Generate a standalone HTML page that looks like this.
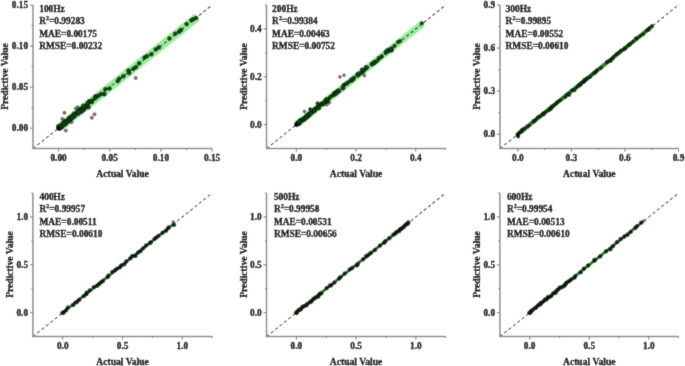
<!DOCTYPE html><html><head><meta charset="utf-8"><style>html,body{margin:0;padding:0;background:#fff;width:685px;height:366px;overflow:hidden}svg{display:block}circle{fill:#104c10;stroke:#031503;stroke-width:0.5}text{font-family:"Liberation Serif", serif;font-weight:bold;font-size:9.4px;fill:#000;stroke:#000;stroke-width:0.32px}.t{font-size:9.6px}</style></head><body>
<svg width="685" height="366" viewBox="0 0 685 366"><defs><filter id="bl" x="0" y="0" width="685" height="366" filterUnits="userSpaceOnUse"><feConvolveMatrix order="3" kernelMatrix="0.01134 0.08382 0.01134 0.08382 0.61935 0.08382 0.01134 0.08382 0.01134" edgeMode="duplicate"/></filter></defs><g filter="url(#bl)"><rect width="685" height="366" fill="#fff"/>
<g><line x1="58.59" y1="128.09" x2="197.06" y2="17.06" stroke="#9aee9a" stroke-width="8.50"/><line x1="33.00" y1="148.60" x2="212.10" y2="5.00" stroke="#383838" stroke-width="1.05" stroke-dasharray="3.2,2.4"/><circle cx="64.50" cy="112.80" r="1.70" style="fill:#767676;stroke:#5a5a5a"/><circle cx="62.30" cy="118.90" r="1.70" style="fill:#767676;stroke:#5a5a5a"/><circle cx="65.80" cy="130.60" r="1.70" style="fill:#767676;stroke:#5a5a5a"/><circle cx="77.70" cy="107.20" r="1.70" style="fill:#767676;stroke:#5a5a5a"/><circle cx="75.80" cy="108.50" r="1.70" style="fill:#767676;stroke:#5a5a5a"/><circle cx="71.50" cy="122.20" r="1.70" style="fill:#767676;stroke:#5a5a5a"/><circle cx="91.80" cy="117.80" r="1.70" style="fill:#767676;stroke:#5a5a5a"/><circle cx="94.50" cy="114.30" r="1.70" style="fill:#767676;stroke:#5a5a5a"/><circle cx="135.70" cy="77.90" r="1.70" style="fill:#767676;stroke:#5a5a5a"/><circle cx="62.66" cy="125.57" r="2.00"/><circle cx="65.11" cy="121.78" r="2.00"/><circle cx="71.76" cy="116.46" r="2.00"/><circle cx="80.55" cy="110.82" r="2.00"/><circle cx="61.88" cy="126.88" r="2.00"/><circle cx="70.67" cy="118.66" r="2.00"/><circle cx="80.06" cy="111.71" r="2.00"/><circle cx="78.53" cy="112.11" r="2.00"/><circle cx="65.67" cy="123.97" r="2.00"/><circle cx="59.16" cy="127.07" r="2.00"/><circle cx="58.43" cy="126.45" r="2.00"/><circle cx="68.89" cy="119.36" r="2.00"/><circle cx="64.49" cy="123.19" r="2.00"/><circle cx="64.75" cy="123.23" r="2.00"/><circle cx="70.41" cy="118.04" r="2.00"/><circle cx="64.97" cy="122.98" r="2.00"/><circle cx="64.33" cy="122.86" r="2.00"/><circle cx="59.26" cy="127.71" r="2.00"/><circle cx="81.23" cy="108.90" r="2.00"/><circle cx="63.54" cy="123.73" r="2.00"/><circle cx="86.13" cy="106.25" r="2.00"/><circle cx="67.63" cy="120.53" r="2.00"/><circle cx="78.31" cy="111.84" r="2.00"/><circle cx="69.39" cy="117.67" r="2.00"/><circle cx="81.37" cy="109.50" r="2.00"/><circle cx="74.54" cy="114.72" r="2.00"/><circle cx="83.22" cy="108.85" r="2.00"/><circle cx="74.49" cy="114.58" r="2.00"/><circle cx="59.57" cy="127.36" r="2.00"/><circle cx="70.70" cy="119.74" r="2.00"/><circle cx="62.81" cy="123.56" r="2.00"/><circle cx="77.05" cy="112.92" r="2.00"/><circle cx="68.52" cy="119.27" r="2.00"/><circle cx="80.26" cy="111.05" r="2.00"/><circle cx="72.64" cy="116.12" r="2.00"/><circle cx="59.67" cy="127.77" r="2.00"/><circle cx="59.48" cy="126.74" r="2.00"/><circle cx="73.95" cy="113.66" r="2.00"/><circle cx="69.67" cy="119.63" r="2.00"/><circle cx="86.11" cy="106.81" r="2.00"/><circle cx="79.16" cy="110.11" r="2.00"/><circle cx="64.82" cy="122.71" r="2.00"/><circle cx="73.25" cy="117.29" r="2.00"/><circle cx="71.13" cy="117.73" r="2.00"/><circle cx="65.13" cy="121.00" r="2.00"/><circle cx="58.46" cy="127.61" r="2.00"/><circle cx="80.58" cy="111.14" r="2.00"/><circle cx="78.34" cy="110.80" r="2.00"/><circle cx="80.47" cy="109.56" r="2.00"/><circle cx="70.30" cy="118.58" r="2.00"/><circle cx="60.47" cy="127.26" r="2.00"/><circle cx="63.75" cy="123.21" r="2.00"/><circle cx="72.18" cy="116.47" r="2.00"/><circle cx="68.18" cy="120.46" r="2.00"/><circle cx="73.10" cy="115.70" r="2.00"/><circle cx="70.88" cy="117.48" r="2.00"/><circle cx="59.39" cy="127.50" r="2.00"/><circle cx="74.97" cy="115.43" r="2.00"/><circle cx="82.58" cy="109.26" r="2.00"/><circle cx="80.51" cy="109.20" r="2.00"/><circle cx="65.95" cy="122.81" r="2.00"/><circle cx="60.42" cy="125.65" r="2.00"/><circle cx="59.67" cy="128.50" r="2.00"/><circle cx="65.54" cy="122.63" r="2.00"/><circle cx="61.37" cy="125.36" r="2.00"/><circle cx="60.26" cy="126.24" r="2.00"/><circle cx="62.77" cy="124.27" r="2.00"/><circle cx="66.09" cy="121.99" r="2.00"/><circle cx="77.93" cy="111.92" r="2.00"/><circle cx="71.77" cy="117.70" r="2.00"/><circle cx="58.94" cy="127.19" r="2.00"/><circle cx="64.04" cy="124.24" r="2.00"/><circle cx="61.95" cy="126.13" r="2.00"/><circle cx="64.10" cy="123.12" r="2.00"/><circle cx="75.35" cy="114.71" r="2.00"/><circle cx="59.01" cy="127.60" r="2.00"/><circle cx="62.59" cy="124.79" r="2.00"/><circle cx="77.84" cy="112.20" r="2.00"/><circle cx="77.07" cy="112.74" r="2.00"/><circle cx="85.47" cy="106.38" r="2.00"/><circle cx="80.37" cy="110.08" r="2.00"/><circle cx="76.48" cy="113.68" r="2.00"/><circle cx="69.20" cy="118.97" r="2.00"/><circle cx="75.87" cy="113.92" r="2.00"/><circle cx="59.91" cy="126.41" r="2.00"/><circle cx="83.72" cy="109.86" r="2.00"/><circle cx="67.26" cy="121.55" r="2.00"/><circle cx="84.29" cy="106.96" r="2.00"/><circle cx="78.89" cy="111.30" r="2.00"/><circle cx="58.96" cy="128.08" r="2.00"/><circle cx="83.54" cy="109.46" r="2.00"/><circle cx="85.34" cy="106.97" r="2.00"/><circle cx="74.70" cy="115.90" r="2.00"/><circle cx="86.16" cy="107.34" r="2.00"/><circle cx="77.67" cy="112.03" r="2.00"/><circle cx="68.15" cy="120.37" r="2.00"/><circle cx="64.09" cy="123.30" r="2.00"/><circle cx="63.59" cy="123.34" r="2.00"/><circle cx="61.31" cy="125.57" r="2.00"/><circle cx="72.12" cy="116.67" r="2.00"/><circle cx="68.13" cy="121.57" r="2.00"/><circle cx="58.50" cy="126.96" r="2.00"/><circle cx="63.62" cy="122.99" r="2.00"/><circle cx="81.19" cy="111.96" r="2.00"/><circle cx="68.09" cy="120.73" r="2.00"/><circle cx="82.28" cy="110.21" r="2.00"/><circle cx="83.91" cy="106.89" r="2.00"/><circle cx="78.22" cy="113.67" r="2.00"/><circle cx="72.25" cy="117.69" r="2.00"/><circle cx="78.61" cy="111.98" r="2.00"/><circle cx="59.55" cy="127.86" r="2.00"/><circle cx="60.81" cy="127.29" r="2.00"/><circle cx="64.41" cy="122.62" r="2.00"/><circle cx="61.32" cy="125.32" r="2.00"/><circle cx="61.24" cy="125.69" r="2.00"/><circle cx="64.02" cy="124.73" r="2.00"/><circle cx="66.50" cy="121.95" r="2.00"/><circle cx="63.01" cy="124.36" r="2.00"/><circle cx="59.53" cy="127.52" r="2.00"/><circle cx="65.70" cy="122.43" r="2.00"/><circle cx="65.15" cy="123.05" r="2.00"/><circle cx="63.42" cy="123.80" r="2.00"/><circle cx="64.75" cy="122.66" r="2.00"/><circle cx="60.64" cy="126.90" r="2.00"/><circle cx="59.20" cy="127.48" r="2.00"/><circle cx="63.73" cy="125.03" r="2.00"/><circle cx="65.97" cy="121.77" r="2.00"/><circle cx="65.08" cy="122.99" r="2.00"/><circle cx="65.73" cy="123.12" r="2.00"/><circle cx="59.37" cy="127.52" r="2.00"/><circle cx="59.58" cy="127.40" r="2.00"/><circle cx="60.50" cy="126.45" r="2.00"/><circle cx="66.57" cy="121.46" r="2.00"/><circle cx="60.02" cy="127.06" r="2.00"/><circle cx="60.56" cy="126.50" r="2.00"/><circle cx="65.93" cy="121.96" r="2.00"/><circle cx="62.22" cy="126.27" r="2.00"/><circle cx="60.89" cy="126.03" r="2.00"/><circle cx="60.55" cy="126.28" r="2.00"/><circle cx="63.94" cy="123.83" r="2.00"/><circle cx="88.55" cy="107.34" r="2.00"/><circle cx="91.77" cy="101.70" r="2.00"/><circle cx="96.74" cy="96.54" r="2.00"/><circle cx="87.53" cy="105.19" r="2.00"/><circle cx="104.51" cy="94.26" r="2.00"/><circle cx="87.99" cy="103.94" r="2.00"/><circle cx="89.02" cy="101.30" r="2.00"/><circle cx="95.16" cy="96.59" r="2.00"/><circle cx="98.67" cy="95.48" r="2.00"/><circle cx="95.82" cy="97.47" r="2.00"/><circle cx="91.88" cy="101.40" r="2.00"/><circle cx="91.62" cy="102.07" r="2.00"/><circle cx="83.30" cy="105.70" r="2.00"/><circle cx="87.40" cy="103.30" r="2.00"/><circle cx="91.50" cy="100.80" r="2.00"/><circle cx="94.80" cy="98.40" r="2.00"/><circle cx="101.30" cy="93.90" r="2.00"/><circle cx="105.40" cy="89.30" r="2.00"/><circle cx="109.50" cy="88.50" r="2.00"/><circle cx="117.70" cy="81.10" r="2.00"/><circle cx="119.30" cy="78.70" r="2.00"/><circle cx="123.40" cy="76.20" r="2.00"/><circle cx="128.40" cy="70.50" r="2.00"/><circle cx="129.20" cy="73.00" r="2.00"/><circle cx="133.30" cy="68.90" r="2.00"/><circle cx="136.00" cy="67.10" r="2.00"/><circle cx="139.20" cy="63.30" r="2.00"/><circle cx="144.60" cy="57.60" r="2.00"/><circle cx="146.90" cy="56.20" r="2.00"/><circle cx="151.30" cy="54.30" r="2.00"/><circle cx="155.70" cy="49.40" r="2.00"/><circle cx="158.90" cy="47.40" r="2.00"/><circle cx="169.40" cy="38.50" r="2.00"/><circle cx="175.20" cy="33.70" r="2.00"/><circle cx="179.00" cy="31.80" r="2.00"/><circle cx="180.90" cy="29.90" r="2.00"/><circle cx="186.60" cy="24.10" r="2.00"/><circle cx="191.40" cy="20.30" r="2.00"/><circle cx="193.30" cy="19.30" r="2.00"/><circle cx="196.20" cy="18.00" r="2.00"/><circle cx="58.79" cy="128.39" r="2.00"/><circle cx="58.29" cy="128.19" r="2.00"/><circle cx="58.69" cy="128.39" r="1.80" style="fill:#050805;stroke:none"/><path d="M33.00 5.00 V148.60 H212.10" fill="none" stroke="#8a8a8a" stroke-width="1.5"/><line x1="30.00" y1="128.09" x2="33.00" y2="128.09" stroke="#777" stroke-width="1"/><line x1="58.59" y1="148.60" x2="58.59" y2="151.60" stroke="#777" stroke-width="1"/><text x="28.20" y="131.19" text-anchor="end">0.00</text><text x="58.59" y="161.30" text-anchor="middle">0.00</text><line x1="30.00" y1="87.06" x2="33.00" y2="87.06" stroke="#777" stroke-width="1"/><line x1="109.76" y1="148.60" x2="109.76" y2="151.60" stroke="#777" stroke-width="1"/><text x="28.20" y="90.16" text-anchor="end">0.05</text><text x="109.76" y="161.30" text-anchor="middle">0.05</text><line x1="30.00" y1="46.03" x2="33.00" y2="46.03" stroke="#777" stroke-width="1"/><line x1="160.93" y1="148.60" x2="160.93" y2="151.60" stroke="#777" stroke-width="1"/><text x="28.20" y="49.13" text-anchor="end">0.10</text><text x="160.93" y="161.30" text-anchor="middle">0.10</text><line x1="30.00" y1="5.00" x2="33.00" y2="5.00" stroke="#777" stroke-width="1"/><line x1="212.10" y1="148.60" x2="212.10" y2="151.60" stroke="#777" stroke-width="1"/><text x="28.20" y="8.10" text-anchor="end">0.15</text><text x="212.10" y="161.30" text-anchor="middle">0.15</text><line x1="31.50" y1="107.57" x2="33.00" y2="107.57" stroke="#777" stroke-width="1"/><line x1="84.17" y1="148.60" x2="84.17" y2="150.10" stroke="#777" stroke-width="1"/><line x1="31.50" y1="66.54" x2="33.00" y2="66.54" stroke="#777" stroke-width="1"/><line x1="135.34" y1="148.60" x2="135.34" y2="150.10" stroke="#777" stroke-width="1"/><line x1="31.50" y1="25.51" x2="33.00" y2="25.51" stroke="#777" stroke-width="1"/><line x1="186.51" y1="148.60" x2="186.51" y2="150.10" stroke="#777" stroke-width="1"/><text class="t" x="122.55" y="176.80" text-anchor="middle">Actual Value</text><text class="t" transform="translate(7.90 76.50) rotate(-90)" text-anchor="middle">Predictive Value</text><text x="39.20" y="12.00">100Hz</text><text x="39.20" y="24.25">R<tspan dy="-3.9" style="font-size:6px">2</tspan><tspan dy="3.9">=0.99283</tspan></text><text x="39.20" y="36.50">MAE=0.00175</text><text x="39.20" y="48.75">RMSE=0.00232</text></g>
<g><line x1="296.35" y1="124.67" x2="422.91" y2="23.19" stroke="#9aee9a" stroke-width="7.00"/><line x1="266.50" y1="148.60" x2="445.60" y2="5.00" stroke="#383838" stroke-width="1.05" stroke-dasharray="3.2,2.4"/><circle cx="304.50" cy="111.40" r="1.53" style="fill:#767676;stroke:#5a5a5a"/><circle cx="326.90" cy="104.70" r="1.53" style="fill:#767676;stroke:#5a5a5a"/><circle cx="329.30" cy="102.80" r="1.53" style="fill:#767676;stroke:#5a5a5a"/><circle cx="339.90" cy="76.90" r="1.53" style="fill:#767676;stroke:#5a5a5a"/><circle cx="344.00" cy="75.20" r="1.53" style="fill:#767676;stroke:#5a5a5a"/><circle cx="364.50" cy="75.70" r="1.53" style="fill:#767676;stroke:#5a5a5a"/><circle cx="337.28" cy="92.10" r="1.80"/><circle cx="299.93" cy="121.71" r="1.80"/><circle cx="331.96" cy="96.01" r="1.80"/><circle cx="308.95" cy="113.43" r="1.80"/><circle cx="321.83" cy="103.44" r="1.80"/><circle cx="302.80" cy="118.86" r="1.80"/><circle cx="314.26" cy="109.34" r="1.80"/><circle cx="339.19" cy="91.08" r="1.80"/><circle cx="336.48" cy="91.69" r="1.80"/><circle cx="307.69" cy="115.35" r="1.80"/><circle cx="298.30" cy="123.95" r="1.80"/><circle cx="310.02" cy="113.86" r="1.80"/><circle cx="312.93" cy="112.11" r="1.80"/><circle cx="319.99" cy="105.12" r="1.80"/><circle cx="306.76" cy="117.00" r="1.80"/><circle cx="302.23" cy="120.05" r="1.80"/><circle cx="318.69" cy="107.91" r="1.80"/><circle cx="304.11" cy="118.44" r="1.80"/><circle cx="334.67" cy="94.31" r="1.80"/><circle cx="334.46" cy="92.91" r="1.80"/><circle cx="329.00" cy="98.67" r="1.80"/><circle cx="337.88" cy="90.67" r="1.80"/><circle cx="337.74" cy="92.16" r="1.80"/><circle cx="327.41" cy="100.86" r="1.80"/><circle cx="315.62" cy="108.34" r="1.80"/><circle cx="335.74" cy="92.91" r="1.80"/><circle cx="317.90" cy="107.74" r="1.80"/><circle cx="333.73" cy="94.07" r="1.80"/><circle cx="334.28" cy="93.29" r="1.80"/><circle cx="335.75" cy="93.32" r="1.80"/><circle cx="326.98" cy="99.57" r="1.80"/><circle cx="310.23" cy="113.58" r="1.80"/><circle cx="326.62" cy="101.24" r="1.80"/><circle cx="308.50" cy="116.37" r="1.80"/><circle cx="334.91" cy="93.05" r="1.80"/><circle cx="327.37" cy="101.59" r="1.80"/><circle cx="317.33" cy="106.73" r="1.80"/><circle cx="321.39" cy="104.47" r="1.80"/><circle cx="309.78" cy="114.14" r="1.80"/><circle cx="336.66" cy="93.24" r="1.80"/><circle cx="323.57" cy="104.11" r="1.80"/><circle cx="327.65" cy="100.22" r="1.80"/><circle cx="335.32" cy="93.88" r="1.80"/><circle cx="299.44" cy="123.38" r="1.80"/><circle cx="324.18" cy="102.27" r="1.80"/><circle cx="333.99" cy="95.04" r="1.80"/><circle cx="300.16" cy="120.12" r="1.80"/><circle cx="306.70" cy="116.16" r="1.80"/><circle cx="305.62" cy="117.82" r="1.80"/><circle cx="326.69" cy="99.79" r="1.80"/><circle cx="297.56" cy="123.39" r="1.80"/><circle cx="325.24" cy="101.86" r="1.80"/><circle cx="299.97" cy="121.93" r="1.80"/><circle cx="327.46" cy="99.67" r="1.80"/><circle cx="297.23" cy="123.91" r="1.80"/><circle cx="303.74" cy="120.15" r="1.80"/><circle cx="304.06" cy="118.21" r="1.80"/><circle cx="297.85" cy="122.76" r="1.80"/><circle cx="338.67" cy="90.86" r="1.80"/><circle cx="311.13" cy="112.99" r="1.80"/><circle cx="322.60" cy="103.60" r="1.80"/><circle cx="310.56" cy="112.90" r="1.80"/><circle cx="297.06" cy="122.86" r="1.80"/><circle cx="328.14" cy="99.60" r="1.80"/><circle cx="334.88" cy="93.83" r="1.80"/><circle cx="325.71" cy="99.59" r="1.80"/><circle cx="316.62" cy="108.59" r="1.80"/><circle cx="310.40" cy="114.52" r="1.80"/><circle cx="299.98" cy="120.27" r="1.80"/><circle cx="302.04" cy="120.61" r="1.80"/><circle cx="320.97" cy="104.21" r="1.80"/><circle cx="302.77" cy="120.09" r="1.80"/><circle cx="337.29" cy="91.78" r="1.80"/><circle cx="314.78" cy="110.94" r="1.80"/><circle cx="296.93" cy="123.81" r="1.80"/><circle cx="298.70" cy="122.63" r="1.80"/><circle cx="297.87" cy="123.63" r="1.80"/><circle cx="323.60" cy="103.11" r="1.80"/><circle cx="318.92" cy="108.36" r="1.80"/><circle cx="338.71" cy="90.52" r="1.80"/><circle cx="306.01" cy="116.38" r="1.80"/><circle cx="321.68" cy="104.55" r="1.80"/><circle cx="323.18" cy="103.53" r="1.80"/><circle cx="306.74" cy="115.18" r="1.80"/><circle cx="314.37" cy="110.14" r="1.80"/><circle cx="297.86" cy="123.44" r="1.80"/><circle cx="314.26" cy="111.25" r="1.80"/><circle cx="307.02" cy="116.91" r="1.80"/><circle cx="300.72" cy="121.39" r="1.80"/><circle cx="305.88" cy="117.54" r="1.80"/><circle cx="318.26" cy="106.45" r="1.80"/><circle cx="323.82" cy="102.79" r="1.80"/><circle cx="306.22" cy="118.40" r="1.80"/><circle cx="326.93" cy="99.05" r="1.80"/><circle cx="314.37" cy="109.21" r="1.80"/><circle cx="298.50" cy="122.87" r="1.80"/><circle cx="313.96" cy="110.07" r="1.80"/><circle cx="300.32" cy="121.41" r="1.80"/><circle cx="330.31" cy="96.82" r="1.80"/><circle cx="336.02" cy="93.55" r="1.80"/><circle cx="299.82" cy="121.52" r="1.80"/><circle cx="299.27" cy="123.75" r="1.80"/><circle cx="296.42" cy="124.52" r="1.80"/><circle cx="298.07" cy="123.07" r="1.80"/><circle cx="301.35" cy="120.62" r="1.80"/><circle cx="299.01" cy="122.46" r="1.80"/><circle cx="298.63" cy="122.49" r="1.80"/><circle cx="299.88" cy="121.87" r="1.80"/><circle cx="296.74" cy="124.25" r="1.80"/><circle cx="302.17" cy="120.48" r="1.80"/><circle cx="296.81" cy="124.31" r="1.80"/><circle cx="299.60" cy="121.73" r="1.80"/><circle cx="298.28" cy="122.28" r="1.80"/><circle cx="298.80" cy="122.90" r="1.80"/><circle cx="297.15" cy="124.18" r="1.80"/><circle cx="301.50" cy="120.69" r="1.80"/><circle cx="300.55" cy="122.06" r="1.80"/><circle cx="296.40" cy="124.43" r="1.80"/><circle cx="300.35" cy="121.60" r="1.80"/><circle cx="298.93" cy="121.79" r="1.80"/><circle cx="357.28" cy="74.49" r="1.80"/><circle cx="353.42" cy="79.27" r="1.80"/><circle cx="365.92" cy="66.99" r="1.80"/><circle cx="381.66" cy="56.53" r="1.80"/><circle cx="388.44" cy="51.16" r="1.80"/><circle cx="351.00" cy="80.29" r="1.80"/><circle cx="364.84" cy="69.71" r="1.80"/><circle cx="375.31" cy="62.17" r="1.80"/><circle cx="386.97" cy="50.79" r="1.80"/><circle cx="343.75" cy="85.93" r="1.80"/><circle cx="358.06" cy="75.62" r="1.80"/><circle cx="361.05" cy="72.78" r="1.80"/><circle cx="343.25" cy="88.46" r="1.80"/><circle cx="391.68" cy="49.07" r="1.80"/><circle cx="373.49" cy="63.26" r="1.80"/><circle cx="351.50" cy="80.91" r="1.80"/><circle cx="374.30" cy="61.82" r="1.80"/><circle cx="366.35" cy="67.79" r="1.80"/><circle cx="344.07" cy="84.59" r="1.80"/><circle cx="378.73" cy="58.13" r="1.80"/><circle cx="343.52" cy="85.63" r="1.80"/><circle cx="352.57" cy="79.47" r="1.80"/><circle cx="385.75" cy="51.82" r="1.80"/><circle cx="360.53" cy="73.50" r="1.80"/><circle cx="391.71" cy="48.41" r="1.80"/><circle cx="346.20" cy="83.71" r="1.80"/><circle cx="362.84" cy="72.37" r="1.80"/><circle cx="385.72" cy="53.20" r="1.80"/><circle cx="348.14" cy="82.26" r="1.80"/><circle cx="360.40" cy="73.25" r="1.80"/><circle cx="377.11" cy="61.02" r="1.80"/><circle cx="363.77" cy="70.14" r="1.80"/><circle cx="389.56" cy="49.31" r="1.80"/><circle cx="374.37" cy="63.22" r="1.80"/><circle cx="379.44" cy="58.38" r="1.80"/><circle cx="371.64" cy="63.86" r="1.80"/><circle cx="342.40" cy="87.50" r="1.80"/><circle cx="347.30" cy="83.40" r="1.80"/><circle cx="351.40" cy="79.30" r="1.80"/><circle cx="353.90" cy="77.70" r="1.80"/><circle cx="358.00" cy="73.60" r="1.80"/><circle cx="362.00" cy="69.50" r="1.80"/><circle cx="367.00" cy="67.90" r="1.80"/><circle cx="371.90" cy="64.60" r="1.80"/><circle cx="374.30" cy="63.00" r="1.80"/><circle cx="381.70" cy="56.40" r="1.80"/><circle cx="387.50" cy="51.50" r="1.80"/><circle cx="391.60" cy="50.70" r="1.80"/><circle cx="387.00" cy="50.30" r="1.80"/><circle cx="391.10" cy="49.60" r="1.80"/><circle cx="394.60" cy="45.80" r="1.80"/><circle cx="398.00" cy="42.10" r="1.80"/><circle cx="400.00" cy="41.10" r="1.80"/><circle cx="421.90" cy="23.20" r="1.80"/><circle cx="310.30" cy="109.30" r="1.80"/><circle cx="317.60" cy="103.40" r="1.80"/><circle cx="296.55" cy="124.97" r="1.80"/><circle cx="296.05" cy="124.77" r="1.80"/><circle cx="296.45" cy="124.97" r="1.62" style="fill:#050805;stroke:none"/><path d="M266.50 5.00 V148.60 H445.60" fill="none" stroke="#8a8a8a" stroke-width="1.5"/><line x1="263.50" y1="124.67" x2="266.50" y2="124.67" stroke="#777" stroke-width="1"/><line x1="296.35" y1="148.60" x2="296.35" y2="151.60" stroke="#777" stroke-width="1"/><text x="261.70" y="127.77" text-anchor="end">0.0</text><text x="296.35" y="161.30" text-anchor="middle">0.0</text><line x1="263.50" y1="76.80" x2="266.50" y2="76.80" stroke="#777" stroke-width="1"/><line x1="356.05" y1="148.60" x2="356.05" y2="151.60" stroke="#777" stroke-width="1"/><text x="261.70" y="79.90" text-anchor="end">0.2</text><text x="356.05" y="161.30" text-anchor="middle">0.2</text><line x1="263.50" y1="28.93" x2="266.50" y2="28.93" stroke="#777" stroke-width="1"/><line x1="415.75" y1="148.60" x2="415.75" y2="151.60" stroke="#777" stroke-width="1"/><text x="261.70" y="32.03" text-anchor="end">0.4</text><text x="415.75" y="161.30" text-anchor="middle">0.4</text><line x1="265.00" y1="100.73" x2="266.50" y2="100.73" stroke="#777" stroke-width="1"/><line x1="326.20" y1="148.60" x2="326.20" y2="150.10" stroke="#777" stroke-width="1"/><line x1="265.00" y1="52.87" x2="266.50" y2="52.87" stroke="#777" stroke-width="1"/><line x1="385.90" y1="148.60" x2="385.90" y2="150.10" stroke="#777" stroke-width="1"/><line x1="265.00" y1="5.00" x2="266.50" y2="5.00" stroke="#777" stroke-width="1"/><line x1="445.60" y1="148.60" x2="445.60" y2="150.10" stroke="#777" stroke-width="1"/><text class="t" x="356.05" y="176.80" text-anchor="middle">Actual Value</text><text class="t" transform="translate(246.60 76.50) rotate(-90)" text-anchor="middle">Predictive Value</text><text x="272.10" y="12.00">200Hz</text><text x="272.10" y="24.25">R<tspan dy="-3.9" style="font-size:6px">2</tspan><tspan dy="3.9">=0.99384</tspan></text><text x="272.10" y="36.50">MAE=0.00463</text><text x="272.10" y="48.75">RMSE=0.00752</text></g>
<g><line x1="517.85" y1="134.24" x2="652.62" y2="25.82" stroke="#2a8a2a" stroke-width="4.20"/><line x1="500.00" y1="148.60" x2="678.50" y2="5.00" stroke="#383838" stroke-width="1.05" stroke-dasharray="3.2,2.4"/><circle cx="543.05" cy="113.38" r="1.60" style="fill:#0e340e"/><circle cx="582.45" cy="82.10" r="1.60" style="fill:#0e340e"/><circle cx="584.91" cy="80.39" r="1.60" style="fill:#0e340e"/><circle cx="607.56" cy="62.11" r="1.60" style="fill:#0e340e"/><circle cx="545.73" cy="112.02" r="1.60" style="fill:#0e340e"/><circle cx="569.24" cy="95.00" r="1.60" style="fill:#0e340e"/><circle cx="606.99" cy="61.62" r="1.60" style="fill:#0e340e"/><circle cx="534.05" cy="121.35" r="1.60" style="fill:#0e340e"/><circle cx="586.10" cy="79.86" r="1.60" style="fill:#0e340e"/><circle cx="596.96" cy="70.02" r="1.60" style="fill:#0e340e"/><circle cx="590.24" cy="77.00" r="1.60" style="fill:#0e340e"/><circle cx="581.36" cy="83.57" r="1.60" style="fill:#0e340e"/><circle cx="550.73" cy="109.05" r="1.60" style="fill:#0e340e"/><circle cx="568.60" cy="93.66" r="1.60" style="fill:#0e340e"/><circle cx="595.20" cy="72.75" r="1.60" style="fill:#0e340e"/><circle cx="616.16" cy="54.45" r="1.60" style="fill:#0e340e"/><circle cx="560.26" cy="100.34" r="1.60" style="fill:#0e340e"/><circle cx="617.73" cy="53.23" r="1.60" style="fill:#0e340e"/><circle cx="612.12" cy="58.69" r="1.60" style="fill:#0e340e"/><circle cx="541.19" cy="115.67" r="1.60" style="fill:#0e340e"/><circle cx="620.85" cy="50.55" r="1.60" style="fill:#0e340e"/><circle cx="550.26" cy="108.52" r="1.60" style="fill:#0e340e"/><circle cx="571.96" cy="90.26" r="1.60" style="fill:#0e340e"/><circle cx="580.70" cy="84.07" r="1.60" style="fill:#0e340e"/><circle cx="580.81" cy="84.39" r="1.60" style="fill:#0e340e"/><circle cx="617.07" cy="53.87" r="1.60" style="fill:#0e340e"/><circle cx="610.04" cy="61.03" r="1.60" style="fill:#0e340e"/><circle cx="535.29" cy="120.15" r="1.60" style="fill:#0e340e"/><circle cx="610.69" cy="60.91" r="1.60" style="fill:#0e340e"/><circle cx="578.65" cy="85.02" r="1.60" style="fill:#0e340e"/><circle cx="594.44" cy="72.92" r="1.60" style="fill:#0e340e"/><circle cx="579.85" cy="85.54" r="1.60" style="fill:#0e340e"/><circle cx="548.94" cy="110.39" r="1.60" style="fill:#0e340e"/><circle cx="624.10" cy="49.26" r="1.60" style="fill:#0e340e"/><circle cx="527.43" cy="126.74" r="1.60" style="fill:#0e340e"/><circle cx="533.69" cy="120.87" r="1.60" style="fill:#0e340e"/><circle cx="549.40" cy="109.01" r="1.60" style="fill:#0e340e"/><circle cx="521.95" cy="129.65" r="1.60" style="fill:#0e340e"/><circle cx="584.15" cy="81.89" r="1.60" style="fill:#0e340e"/><circle cx="553.43" cy="105.90" r="1.60" style="fill:#0e340e"/><circle cx="612.56" cy="58.80" r="1.60" style="fill:#0e340e"/><circle cx="624.75" cy="48.15" r="1.60" style="fill:#0e340e"/><circle cx="551.39" cy="108.03" r="1.60" style="fill:#0e340e"/><circle cx="521.41" cy="131.78" r="1.60" style="fill:#0e340e"/><circle cx="538.63" cy="116.79" r="1.60" style="fill:#0e340e"/><circle cx="534.81" cy="121.07" r="1.60" style="fill:#0e340e"/><circle cx="522.58" cy="130.81" r="1.60" style="fill:#0e340e"/><circle cx="620.32" cy="51.39" r="1.60" style="fill:#0e340e"/><circle cx="613.63" cy="56.67" r="1.60" style="fill:#0e340e"/><circle cx="573.79" cy="89.73" r="1.60" style="fill:#0e340e"/><circle cx="586.48" cy="78.35" r="1.60" style="fill:#0e340e"/><circle cx="584.04" cy="80.53" r="1.60" style="fill:#0e340e"/><circle cx="618.26" cy="52.78" r="1.60" style="fill:#0e340e"/><circle cx="594.98" cy="72.16" r="1.60" style="fill:#0e340e"/><circle cx="543.03" cy="113.43" r="1.60" style="fill:#0e340e"/><circle cx="574.48" cy="90.36" r="1.60" style="fill:#0e340e"/><circle cx="576.91" cy="87.39" r="1.60" style="fill:#0e340e"/><circle cx="579.99" cy="84.30" r="1.60" style="fill:#0e340e"/><circle cx="519.67" cy="132.10" r="1.60" style="fill:#0e340e"/><circle cx="523.99" cy="128.70" r="1.60" style="fill:#0e340e"/><circle cx="584.58" cy="79.61" r="1.60" style="fill:#0e340e"/><circle cx="555.71" cy="103.99" r="1.60" style="fill:#0e340e"/><circle cx="593.56" cy="73.32" r="1.60" style="fill:#0e340e"/><circle cx="524.27" cy="128.94" r="1.60" style="fill:#0e340e"/><circle cx="590.48" cy="76.28" r="1.60" style="fill:#0e340e"/><circle cx="566.67" cy="94.86" r="1.60" style="fill:#0e340e"/><circle cx="581.20" cy="83.02" r="1.60" style="fill:#0e340e"/><circle cx="551.61" cy="107.64" r="1.60" style="fill:#0e340e"/><circle cx="557.17" cy="102.16" r="1.60" style="fill:#0e340e"/><circle cx="558.09" cy="101.56" r="1.60" style="fill:#0e340e"/><circle cx="600.96" cy="68.20" r="1.60" style="fill:#0e340e"/><circle cx="596.66" cy="70.98" r="1.60" style="fill:#0e340e"/><circle cx="551.15" cy="107.65" r="1.60" style="fill:#0e340e"/><circle cx="543.97" cy="114.37" r="1.60" style="fill:#0e340e"/><circle cx="537.47" cy="117.54" r="1.60" style="fill:#0e340e"/><circle cx="528.95" cy="125.70" r="1.60" style="fill:#0e340e"/><circle cx="552.03" cy="106.13" r="1.60" style="fill:#0e340e"/><circle cx="565.32" cy="97.10" r="1.60" style="fill:#0e340e"/><circle cx="609.62" cy="60.70" r="1.60" style="fill:#0e340e"/><circle cx="587.74" cy="78.52" r="1.60" style="fill:#0e340e"/><circle cx="649.26" cy="28.17" r="1.60" style="fill:#0e340e"/><circle cx="628.35" cy="45.46" r="1.60" style="fill:#0e340e"/><circle cx="639.77" cy="36.50" r="1.60" style="fill:#0e340e"/><circle cx="648.57" cy="29.94" r="1.60" style="fill:#0e340e"/><circle cx="629.95" cy="43.89" r="1.60" style="fill:#0e340e"/><circle cx="643.16" cy="34.35" r="1.60" style="fill:#0e340e"/><circle cx="647.18" cy="30.04" r="1.60" style="fill:#0e340e"/><circle cx="633.14" cy="41.72" r="1.60" style="fill:#0e340e"/><circle cx="646.88" cy="30.37" r="1.60" style="fill:#0e340e"/><circle cx="636.71" cy="39.09" r="1.60" style="fill:#0e340e"/><circle cx="636.09" cy="38.15" r="1.60" style="fill:#0e340e"/><circle cx="629.57" cy="44.99" r="1.60" style="fill:#0e340e"/><circle cx="625.56" cy="48.58" r="1.60" style="fill:#0e340e"/><circle cx="652.08" cy="25.89" r="1.60" style="fill:#0e340e"/><circle cx="517.80" cy="134.40" r="1.60" style="fill:#0e340e"/><circle cx="518.20" cy="136.60" r="1.60" style="fill:#0e340e"/><circle cx="517.50" cy="135.50" r="1.60" style="fill:#0e340e"/><circle cx="518.60" cy="133.60" r="1.60" style="fill:#0e340e"/><circle cx="518.05" cy="134.54" r="1.60" style="fill:#0e340e"/><circle cx="517.55" cy="134.34" r="1.60" style="fill:#0e340e"/><circle cx="517.95" cy="134.54" r="1.44" style="fill:#050805;stroke:none"/><path d="M500.00 5.00 V148.60 H678.50" fill="none" stroke="#8a8a8a" stroke-width="1.5"/><line x1="497.00" y1="134.24" x2="500.00" y2="134.24" stroke="#777" stroke-width="1"/><line x1="517.85" y1="148.60" x2="517.85" y2="151.60" stroke="#777" stroke-width="1"/><text x="495.20" y="137.34" text-anchor="end">0.0</text><text x="517.85" y="161.30" text-anchor="middle">0.0</text><line x1="497.00" y1="91.16" x2="500.00" y2="91.16" stroke="#777" stroke-width="1"/><line x1="571.40" y1="148.60" x2="571.40" y2="151.60" stroke="#777" stroke-width="1"/><text x="495.20" y="94.26" text-anchor="end">0.3</text><text x="571.40" y="161.30" text-anchor="middle">0.3</text><line x1="497.00" y1="48.08" x2="500.00" y2="48.08" stroke="#777" stroke-width="1"/><line x1="624.95" y1="148.60" x2="624.95" y2="151.60" stroke="#777" stroke-width="1"/><text x="495.20" y="51.18" text-anchor="end">0.6</text><text x="624.95" y="161.30" text-anchor="middle">0.6</text><line x1="497.00" y1="5.00" x2="500.00" y2="5.00" stroke="#777" stroke-width="1"/><line x1="678.50" y1="148.60" x2="678.50" y2="151.60" stroke="#777" stroke-width="1"/><text x="495.20" y="8.10" text-anchor="end">0.9</text><text x="678.50" y="161.30" text-anchor="middle">0.9</text><line x1="498.50" y1="112.70" x2="500.00" y2="112.70" stroke="#777" stroke-width="1"/><line x1="544.62" y1="148.60" x2="544.62" y2="150.10" stroke="#777" stroke-width="1"/><line x1="498.50" y1="69.62" x2="500.00" y2="69.62" stroke="#777" stroke-width="1"/><line x1="598.17" y1="148.60" x2="598.17" y2="150.10" stroke="#777" stroke-width="1"/><line x1="498.50" y1="26.54" x2="500.00" y2="26.54" stroke="#777" stroke-width="1"/><line x1="651.73" y1="148.60" x2="651.73" y2="150.10" stroke="#777" stroke-width="1"/><text class="t" x="589.25" y="176.80" text-anchor="middle">Actual Value</text><text class="t" transform="translate(479.80 76.50) rotate(-90)" text-anchor="middle">Predictive Value</text><text x="505.60" y="12.00">300Hz</text><text x="505.60" y="24.25">R<tspan dy="-3.9" style="font-size:6px">2</tspan><tspan dy="3.9">=0.99895</tspan></text><text x="505.60" y="36.50">MAE=0.00552</text><text x="505.60" y="48.75">RMSE=0.00610</text></g>
<g><line x1="62.78" y1="312.67" x2="173.95" y2="223.63" stroke="#2a8a2a" stroke-width="3.00"/><line x1="32.90" y1="336.60" x2="212.20" y2="193.00" stroke="#383838" stroke-width="1.05" stroke-dasharray="3.2,2.4"/><circle cx="173.30" cy="222.20" r="1.61" style="fill:#767676;stroke:#5a5a5a"/><circle cx="63.61" cy="312.42" r="1.90" style="fill:#0c200c"/><circle cx="65.99" cy="310.41" r="1.90" style="fill:#0c200c"/><circle cx="67.80" cy="307.72" r="1.90" style="fill:#0c200c"/><circle cx="73.17" cy="305.02" r="1.90" style="fill:#0c200c"/><circle cx="75.45" cy="302.63" r="1.90" style="fill:#0c200c"/><circle cx="77.06" cy="301.86" r="1.90" style="fill:#0c200c"/><circle cx="79.26" cy="299.75" r="1.90" style="fill:#0c200c"/><circle cx="83.87" cy="296.00" r="1.90" style="fill:#0c200c"/><circle cx="86.31" cy="294.15" r="1.90" style="fill:#0c200c"/><circle cx="86.70" cy="292.65" r="1.90" style="fill:#0c200c"/><circle cx="89.79" cy="290.46" r="1.90" style="fill:#0c200c"/><circle cx="93.87" cy="287.17" r="1.90" style="fill:#0c200c"/><circle cx="97.17" cy="285.73" r="1.90" style="fill:#0c200c"/><circle cx="99.15" cy="283.91" r="1.90" style="fill:#0c200c"/><circle cx="101.30" cy="282.07" r="1.90" style="fill:#0c200c"/><circle cx="102.98" cy="281.00" r="1.90" style="fill:#0c200c"/><circle cx="107.81" cy="277.03" r="1.90" style="fill:#0c200c"/><circle cx="108.34" cy="275.70" r="1.90" style="fill:#0c200c"/><circle cx="112.37" cy="272.00" r="1.90" style="fill:#0c200c"/><circle cx="115.09" cy="270.31" r="1.90" style="fill:#0c200c"/><circle cx="116.78" cy="268.83" r="1.90" style="fill:#0c200c"/><circle cx="119.68" cy="267.45" r="1.90" style="fill:#0c200c"/><circle cx="121.28" cy="265.49" r="1.90" style="fill:#0c200c"/><circle cx="124.20" cy="264.36" r="1.90" style="fill:#0c200c"/><circle cx="126.29" cy="261.52" r="1.90" style="fill:#0c200c"/><circle cx="130.22" cy="258.36" r="1.90" style="fill:#0c200c"/><circle cx="132.37" cy="255.96" r="1.90" style="fill:#0c200c"/><circle cx="135.48" cy="255.91" r="1.90" style="fill:#0c200c"/><circle cx="138.09" cy="252.57" r="1.90" style="fill:#0c200c"/><circle cx="140.61" cy="251.03" r="1.90" style="fill:#0c200c"/><circle cx="143.13" cy="248.31" r="1.90" style="fill:#0c200c"/><circle cx="146.09" cy="245.49" r="1.90" style="fill:#0c200c"/><circle cx="149.95" cy="243.01" r="1.90" style="fill:#0c200c"/><circle cx="150.79" cy="242.29" r="1.90" style="fill:#0c200c"/><circle cx="154.66" cy="238.80" r="1.90" style="fill:#0c200c"/><circle cx="156.18" cy="237.62" r="1.90" style="fill:#0c200c"/><circle cx="158.47" cy="235.89" r="1.90" style="fill:#0c200c"/><circle cx="162.58" cy="232.78" r="1.90" style="fill:#0c200c"/><circle cx="166.12" cy="230.70" r="1.90" style="fill:#0c200c"/><circle cx="168.44" cy="227.82" r="1.90" style="fill:#0c200c"/><circle cx="168.55" cy="227.64" r="1.90" style="fill:#0c200c"/><circle cx="173.99" cy="224.90" r="1.90" style="fill:#0c200c"/><circle cx="62.98" cy="312.97" r="1.90" style="fill:#0c200c"/><circle cx="62.48" cy="312.77" r="1.90" style="fill:#0c200c"/><path d="M32.90 193.00 V336.60 H212.20" fill="none" stroke="#8a8a8a" stroke-width="1.5"/><line x1="29.90" y1="312.67" x2="32.90" y2="312.67" stroke="#777" stroke-width="1"/><line x1="62.78" y1="336.60" x2="62.78" y2="339.60" stroke="#777" stroke-width="1"/><text x="28.10" y="315.77" text-anchor="end">0.0</text><text x="62.78" y="349.30" text-anchor="middle">0.0</text><line x1="29.90" y1="264.80" x2="32.90" y2="264.80" stroke="#777" stroke-width="1"/><line x1="122.55" y1="336.60" x2="122.55" y2="339.60" stroke="#777" stroke-width="1"/><text x="28.10" y="267.90" text-anchor="end">0.5</text><text x="122.55" y="349.30" text-anchor="middle">0.5</text><line x1="29.90" y1="216.93" x2="32.90" y2="216.93" stroke="#777" stroke-width="1"/><line x1="182.32" y1="336.60" x2="182.32" y2="339.60" stroke="#777" stroke-width="1"/><text x="28.10" y="220.03" text-anchor="end">1.0</text><text x="182.32" y="349.30" text-anchor="middle">1.0</text><line x1="31.40" y1="288.73" x2="32.90" y2="288.73" stroke="#777" stroke-width="1"/><line x1="92.67" y1="336.60" x2="92.67" y2="338.10" stroke="#777" stroke-width="1"/><line x1="31.40" y1="240.87" x2="32.90" y2="240.87" stroke="#777" stroke-width="1"/><line x1="152.43" y1="336.60" x2="152.43" y2="338.10" stroke="#777" stroke-width="1"/><line x1="31.40" y1="193.00" x2="32.90" y2="193.00" stroke="#777" stroke-width="1"/><line x1="212.20" y1="336.60" x2="212.20" y2="338.10" stroke="#777" stroke-width="1"/><text class="t" x="122.55" y="364.80" text-anchor="middle">Actual Value</text><text class="t" transform="translate(12.90 264.50) rotate(-90)" text-anchor="middle">Predictive Value</text><text x="39.50" y="200.00">400Hz</text><text x="39.50" y="212.25">R<tspan dy="-3.9" style="font-size:6px">2</tspan><tspan dy="3.9">=0.99957</tspan></text><text x="39.50" y="224.50">MAE=0.00511</text><text x="39.50" y="236.75">RMSE=0.00610</text></g>
<g><line x1="296.37" y1="312.67" x2="409.14" y2="222.29" stroke="#2a8a2a" stroke-width="3.00"/><line x1="266.50" y1="336.60" x2="445.70" y2="193.00" stroke="#383838" stroke-width="1.05" stroke-dasharray="3.2,2.4"/><circle cx="365.80" cy="255.80" r="1.61" style="fill:#767676;stroke:#5a5a5a"/><circle cx="357.80" cy="264.50" r="1.61" style="fill:#767676;stroke:#5a5a5a"/><circle cx="297.17" cy="311.98" r="1.90" style="fill:#0c200c"/><circle cx="298.50" cy="310.05" r="1.90" style="fill:#0c200c"/><circle cx="300.06" cy="309.82" r="1.90" style="fill:#0c200c"/><circle cx="300.94" cy="308.94" r="1.90" style="fill:#0c200c"/><circle cx="302.61" cy="307.01" r="1.90" style="fill:#0c200c"/><circle cx="302.72" cy="306.69" r="1.90" style="fill:#0c200c"/><circle cx="304.96" cy="305.79" r="1.90" style="fill:#0c200c"/><circle cx="306.73" cy="305.00" r="1.90" style="fill:#0c200c"/><circle cx="307.05" cy="304.20" r="1.90" style="fill:#0c200c"/><circle cx="309.73" cy="302.37" r="1.90" style="fill:#0c200c"/><circle cx="310.90" cy="301.52" r="1.90" style="fill:#0c200c"/><circle cx="311.53" cy="301.29" r="1.90" style="fill:#0c200c"/><circle cx="313.13" cy="299.26" r="1.90" style="fill:#0c200c"/><circle cx="314.79" cy="297.92" r="1.90" style="fill:#0c200c"/><circle cx="315.38" cy="297.74" r="1.90" style="fill:#0c200c"/><circle cx="318.13" cy="296.65" r="1.90" style="fill:#0c200c"/><circle cx="318.29" cy="295.72" r="1.90" style="fill:#0c200c"/><circle cx="319.76" cy="293.77" r="1.90" style="fill:#0c200c"/><circle cx="321.31" cy="293.41" r="1.90" style="fill:#0c200c"/><circle cx="326.74" cy="288.04" r="1.90" style="fill:#0c200c"/><circle cx="329.93" cy="285.62" r="1.90" style="fill:#0c200c"/><circle cx="331.14" cy="285.26" r="1.90" style="fill:#0c200c"/><circle cx="334.41" cy="282.58" r="1.90" style="fill:#0c200c"/><circle cx="339.21" cy="278.51" r="1.90" style="fill:#0c200c"/><circle cx="340.37" cy="277.20" r="1.90" style="fill:#0c200c"/><circle cx="344.67" cy="273.54" r="1.90" style="fill:#0c200c"/><circle cx="349.73" cy="269.46" r="1.90" style="fill:#0c200c"/><circle cx="352.21" cy="267.97" r="1.90" style="fill:#0c200c"/><circle cx="356.94" cy="265.43" r="1.90" style="fill:#0c200c"/><circle cx="357.61" cy="264.08" r="1.90" style="fill:#0c200c"/><circle cx="363.21" cy="259.16" r="1.90" style="fill:#0c200c"/><circle cx="366.64" cy="256.27" r="1.90" style="fill:#0c200c"/><circle cx="368.60" cy="254.72" r="1.90" style="fill:#0c200c"/><circle cx="370.90" cy="252.90" r="1.90" style="fill:#0c200c"/><circle cx="374.90" cy="250.06" r="1.90" style="fill:#0c200c"/><circle cx="379.99" cy="245.56" r="1.90" style="fill:#0c200c"/><circle cx="384.21" cy="242.72" r="1.90" style="fill:#0c200c"/><circle cx="385.34" cy="241.20" r="1.90" style="fill:#0c200c"/><circle cx="389.38" cy="238.17" r="1.90" style="fill:#0c200c"/><circle cx="393.36" cy="234.70" r="1.90" style="fill:#0c200c"/><circle cx="395.22" cy="233.54" r="1.90" style="fill:#0c200c"/><circle cx="396.34" cy="232.45" r="1.90" style="fill:#0c200c"/><circle cx="396.36" cy="232.16" r="1.90" style="fill:#0c200c"/><circle cx="398.76" cy="231.20" r="1.90" style="fill:#0c200c"/><circle cx="399.20" cy="230.83" r="1.90" style="fill:#0c200c"/><circle cx="399.81" cy="229.48" r="1.90" style="fill:#0c200c"/><circle cx="401.06" cy="228.86" r="1.90" style="fill:#0c200c"/><circle cx="401.98" cy="228.22" r="1.90" style="fill:#0c200c"/><circle cx="403.67" cy="226.98" r="1.90" style="fill:#0c200c"/><circle cx="403.90" cy="226.49" r="1.90" style="fill:#0c200c"/><circle cx="405.71" cy="224.54" r="1.90" style="fill:#0c200c"/><circle cx="406.17" cy="224.57" r="1.90" style="fill:#0c200c"/><circle cx="407.78" cy="223.65" r="1.90" style="fill:#0c200c"/><circle cx="408.29" cy="222.48" r="1.90" style="fill:#0c200c"/><circle cx="296.57" cy="312.97" r="1.90" style="fill:#0c200c"/><circle cx="296.07" cy="312.77" r="1.90" style="fill:#0c200c"/><path d="M266.50 193.00 V336.60 H445.70" fill="none" stroke="#8a8a8a" stroke-width="1.5"/><line x1="263.50" y1="312.67" x2="266.50" y2="312.67" stroke="#777" stroke-width="1"/><line x1="296.37" y1="336.60" x2="296.37" y2="339.60" stroke="#777" stroke-width="1"/><text x="261.70" y="315.77" text-anchor="end">0.0</text><text x="296.37" y="349.30" text-anchor="middle">0.0</text><line x1="263.50" y1="264.80" x2="266.50" y2="264.80" stroke="#777" stroke-width="1"/><line x1="356.10" y1="336.60" x2="356.10" y2="339.60" stroke="#777" stroke-width="1"/><text x="261.70" y="267.90" text-anchor="end">0.5</text><text x="356.10" y="349.30" text-anchor="middle">0.5</text><line x1="263.50" y1="216.93" x2="266.50" y2="216.93" stroke="#777" stroke-width="1"/><line x1="415.83" y1="336.60" x2="415.83" y2="339.60" stroke="#777" stroke-width="1"/><text x="261.70" y="220.03" text-anchor="end">1.0</text><text x="415.83" y="349.30" text-anchor="middle">1.0</text><line x1="265.00" y1="288.73" x2="266.50" y2="288.73" stroke="#777" stroke-width="1"/><line x1="326.23" y1="336.60" x2="326.23" y2="338.10" stroke="#777" stroke-width="1"/><line x1="265.00" y1="240.87" x2="266.50" y2="240.87" stroke="#777" stroke-width="1"/><line x1="385.97" y1="336.60" x2="385.97" y2="338.10" stroke="#777" stroke-width="1"/><line x1="265.00" y1="193.00" x2="266.50" y2="193.00" stroke="#777" stroke-width="1"/><line x1="445.70" y1="336.60" x2="445.70" y2="338.10" stroke="#777" stroke-width="1"/><text class="t" x="356.10" y="364.80" text-anchor="middle">Actual Value</text><text class="t" transform="translate(246.70 264.50) rotate(-90)" text-anchor="middle">Predictive Value</text><text x="273.90" y="200.00">500Hz</text><text x="273.90" y="212.25">R<tspan dy="-3.9" style="font-size:6px">2</tspan><tspan dy="3.9">=0.99958</tspan></text><text x="273.90" y="224.50">MAE=0.00531</text><text x="273.90" y="236.75">RMSE=0.00656</text></g>
<g><line x1="529.68" y1="312.67" x2="644.89" y2="220.09" stroke="#2a8a2a" stroke-width="3.00"/><line x1="499.90" y1="336.60" x2="678.60" y2="193.00" stroke="#383838" stroke-width="1.05" stroke-dasharray="3.2,2.4"/><circle cx="530.91" cy="311.94" r="1.90" style="fill:#0c200c"/><circle cx="531.18" cy="310.93" r="1.90" style="fill:#0c200c"/><circle cx="532.32" cy="310.25" r="1.90" style="fill:#0c200c"/><circle cx="534.67" cy="308.17" r="1.90" style="fill:#0c200c"/><circle cx="535.79" cy="307.81" r="1.90" style="fill:#0c200c"/><circle cx="537.55" cy="305.94" r="1.90" style="fill:#0c200c"/><circle cx="538.77" cy="304.82" r="1.90" style="fill:#0c200c"/><circle cx="540.52" cy="304.29" r="1.90" style="fill:#0c200c"/><circle cx="540.64" cy="302.98" r="1.90" style="fill:#0c200c"/><circle cx="542.41" cy="302.13" r="1.90" style="fill:#0c200c"/><circle cx="544.51" cy="300.36" r="1.90" style="fill:#0c200c"/><circle cx="544.99" cy="299.45" r="1.90" style="fill:#0c200c"/><circle cx="546.63" cy="299.34" r="1.90" style="fill:#0c200c"/><circle cx="547.94" cy="297.11" r="1.90" style="fill:#0c200c"/><circle cx="549.39" cy="297.07" r="1.90" style="fill:#0c200c"/><circle cx="551.27" cy="296.01" r="1.90" style="fill:#0c200c"/><circle cx="553.10" cy="293.56" r="1.90" style="fill:#0c200c"/><circle cx="554.13" cy="292.84" r="1.90" style="fill:#0c200c"/><circle cx="555.70" cy="292.78" r="1.90" style="fill:#0c200c"/><circle cx="556.58" cy="290.59" r="1.90" style="fill:#0c200c"/><circle cx="558.23" cy="289.43" r="1.90" style="fill:#0c200c"/><circle cx="559.80" cy="287.59" r="1.90" style="fill:#0c200c"/><circle cx="560.08" cy="287.79" r="1.90" style="fill:#0c200c"/><circle cx="562.33" cy="286.96" r="1.90" style="fill:#0c200c"/><circle cx="564.30" cy="285.75" r="1.90" style="fill:#0c200c"/><circle cx="565.44" cy="284.50" r="1.90" style="fill:#0c200c"/><circle cx="565.87" cy="283.36" r="1.90" style="fill:#0c200c"/><circle cx="567.30" cy="282.06" r="1.90" style="fill:#0c200c"/><circle cx="569.38" cy="280.99" r="1.90" style="fill:#0c200c"/><circle cx="571.32" cy="279.47" r="1.90" style="fill:#0c200c"/><circle cx="574.51" cy="277.53" r="1.90" style="fill:#0c200c"/><circle cx="575.35" cy="276.04" r="1.90" style="fill:#0c200c"/><circle cx="580.69" cy="272.27" r="1.90" style="fill:#0c200c"/><circle cx="583.97" cy="268.64" r="1.90" style="fill:#0c200c"/><circle cx="588.21" cy="265.43" r="1.90" style="fill:#0c200c"/><circle cx="594.68" cy="260.61" r="1.90" style="fill:#0c200c"/><circle cx="594.43" cy="259.88" r="1.90" style="fill:#0c200c"/><circle cx="600.19" cy="256.40" r="1.90" style="fill:#0c200c"/><circle cx="606.15" cy="251.27" r="1.90" style="fill:#0c200c"/><circle cx="610.35" cy="249.27" r="1.90" style="fill:#0c200c"/><circle cx="612.87" cy="246.25" r="1.90" style="fill:#0c200c"/><circle cx="616.98" cy="242.16" r="1.90" style="fill:#0c200c"/><circle cx="620.60" cy="239.03" r="1.90" style="fill:#0c200c"/><circle cx="624.37" cy="236.51" r="1.90" style="fill:#0c200c"/><circle cx="627.48" cy="234.81" r="1.90" style="fill:#0c200c"/><circle cx="630.65" cy="231.97" r="1.90" style="fill:#0c200c"/><circle cx="635.20" cy="227.94" r="1.90" style="fill:#0c200c"/><circle cx="637.08" cy="226.05" r="1.90" style="fill:#0c200c"/><circle cx="641.29" cy="222.57" r="1.90" style="fill:#0c200c"/><circle cx="529.88" cy="312.97" r="1.90" style="fill:#0c200c"/><circle cx="529.38" cy="312.77" r="1.90" style="fill:#0c200c"/><path d="M499.90 193.00 V336.60 H678.60" fill="none" stroke="#8a8a8a" stroke-width="1.5"/><line x1="496.90" y1="312.67" x2="499.90" y2="312.67" stroke="#777" stroke-width="1"/><line x1="529.68" y1="336.60" x2="529.68" y2="339.60" stroke="#777" stroke-width="1"/><text x="495.10" y="315.77" text-anchor="end">0.0</text><text x="529.68" y="349.30" text-anchor="middle">0.0</text><line x1="496.90" y1="264.80" x2="499.90" y2="264.80" stroke="#777" stroke-width="1"/><line x1="589.25" y1="336.60" x2="589.25" y2="339.60" stroke="#777" stroke-width="1"/><text x="495.10" y="267.90" text-anchor="end">0.5</text><text x="589.25" y="349.30" text-anchor="middle">0.5</text><line x1="496.90" y1="216.93" x2="499.90" y2="216.93" stroke="#777" stroke-width="1"/><line x1="648.82" y1="336.60" x2="648.82" y2="339.60" stroke="#777" stroke-width="1"/><text x="495.10" y="220.03" text-anchor="end">1.0</text><text x="648.82" y="349.30" text-anchor="middle">1.0</text><line x1="498.40" y1="288.73" x2="499.90" y2="288.73" stroke="#777" stroke-width="1"/><line x1="559.47" y1="336.60" x2="559.47" y2="338.10" stroke="#777" stroke-width="1"/><line x1="498.40" y1="240.87" x2="499.90" y2="240.87" stroke="#777" stroke-width="1"/><line x1="619.03" y1="336.60" x2="619.03" y2="338.10" stroke="#777" stroke-width="1"/><line x1="498.40" y1="193.00" x2="499.90" y2="193.00" stroke="#777" stroke-width="1"/><line x1="678.60" y1="336.60" x2="678.60" y2="338.10" stroke="#777" stroke-width="1"/><text class="t" x="589.25" y="364.80" text-anchor="middle">Actual Value</text><text class="t" transform="translate(479.90 264.50) rotate(-90)" text-anchor="middle">Predictive Value</text><text x="506.90" y="200.00">600Hz</text><text x="506.90" y="212.25">R<tspan dy="-3.9" style="font-size:6px">2</tspan><tspan dy="3.9">=0.99954</tspan></text><text x="506.90" y="224.50">MAE=0.00513</text><text x="506.90" y="236.75">RMSE=0.00610</text></g>
</g></svg></body></html>
